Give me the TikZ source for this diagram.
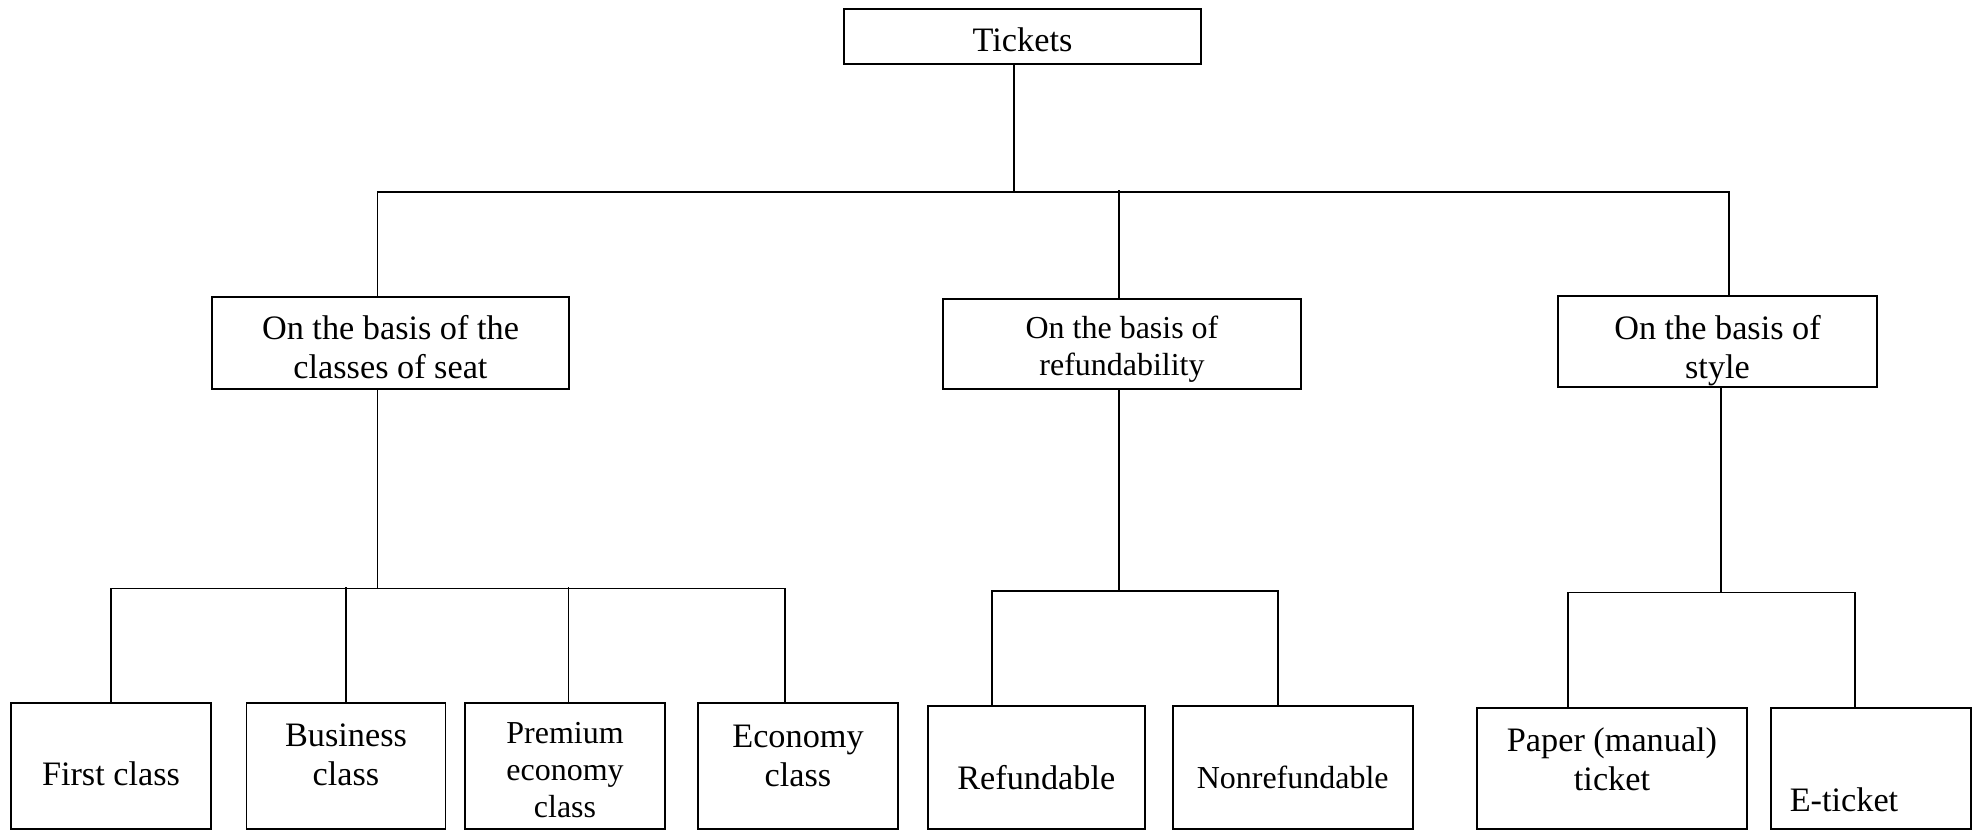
\documentclass[tikz,border=0pt]{standalone}
\usepackage{fontspec}
\setmainfont{Liberation Serif}
\usetikzlibrary{positioning}

\begin{document}
\begin{tikzpicture}[x=0.02cm, y=-0.02cm,
  box/.style={draw, line width=1.1pt, inner sep=0pt},
  tag/.style={align=center, inner sep=0pt, font={\fontsize{19.5}{22}\selectfont}},
  smalltag/.style={tag, font={\fontsize{18.2}{21}\selectfont}},
  link/.style={line width=0.9pt}]

\useasboundingbox (0,0) rectangle (1982,830);

\node[box, minimum width=7.14cm, minimum height=1.10cm, label={[tag, yshift=-0.06cm]center:Tickets}] (tickets) at (1022.5,36.5) {};

\node[box, minimum width=7.14cm, minimum height=1.84cm, label={[tag, yshift=-0.08cm]center:On the basis of the\\classes of seat}] (seat) at (390.5,343) {};

\node[box, minimum width=7.15cm, minimum height=1.80cm, label={[smalltag, yshift=-0.1cm]center:On the basis of\\refundability}] (refund) at (1122,344) {};

\node[box, minimum width=6.38cm, minimum height=1.82cm, label={[tag, yshift=-0.18cm]center:On the basis of\\style}] (style) at (1717.5,341.5) {};

\node[box, minimum width=4.01cm, minimum height=2.52cm, label={[tag, yshift=-0.15cm]center:First class}] (first) at (111,766) {};

\node[box, minimum width=3.98cm, minimum height=2.52cm, label={[tag, yshift=0.22cm]center:Business\\class}] (business) at (346,766) {};

\node[box, minimum width=4.00cm, minimum height=2.52cm, label={[smalltag, yshift=-0.08cm]center:Premium\\economy\\class}] (premium) at (565,766) {};

\node[box, minimum width=3.99cm, minimum height=2.52cm, label={[tag, yshift=0.2cm]center:Economy\\class}] (economy) at (798,766) {};

\node[box, minimum width=4.35cm, minimum height=2.46cm, label={[tag, yshift=-0.2cm]center:Refundable}] (refundable) at (1036.3,767.5) {};

\node[box, minimum width=4.80cm, minimum height=2.46cm, label={[smalltag, yshift=-0.2cm]center:Nonrefundable}] (nonrefundable) at (1292.7,767.5) {};

\node[box, minimum width=5.40cm, minimum height=2.42cm, label={[tag, yshift=0.18cm]center:Paper (manual)\\ticket}] (paper) at (1612,768.5) {};

\node[box, minimum width=4.00cm, minimum height=2.42cm, label={[tag, xshift=-0.54cm, yshift=-0.62cm]center:E-ticket}] (eticket) at (1871,768.5) {};

\draw[link] ([xshift=-0.17cm]tickets.south) -- ++(0,127) coordinate (hub);
\draw[link] ([xshift=-0.26cm]seat.north) |- (hub) -| ([xshift=0.23cm]style.north);
\draw[link] ([xshift=-0.06cm]refund.north) -- ++(0,-108);

\draw[link] ([xshift=-0.26cm]seat.south) -- ++(0,198.7) coordinate (hubA);
\draw[link] (first.north) |- (hubA) -| ([xshift=-0.26cm]economy.north);
\draw[link] (business.north) -- ++(0,-115.3);
\draw[link] ([xshift=0.07cm]premium.north) -- ++(0,-115.3);

\draw[link] ([xshift=-0.06cm]refund.south) -- ++(0,201) coordinate (hubB);
\draw[link] ([xshift=-0.89cm]refundable.north) |- (hubB) -| ([xshift=-0.29cm]nonrefundable.north);

\draw[link] ([xshift=0.07cm]style.south) -- ++(0,204.7) coordinate (hubC);
\draw[link] ([xshift=-0.88cm]paper.north) |- (hubC) -| ([xshift=-0.32cm]eticket.north);

\end{tikzpicture}
\end{document}
